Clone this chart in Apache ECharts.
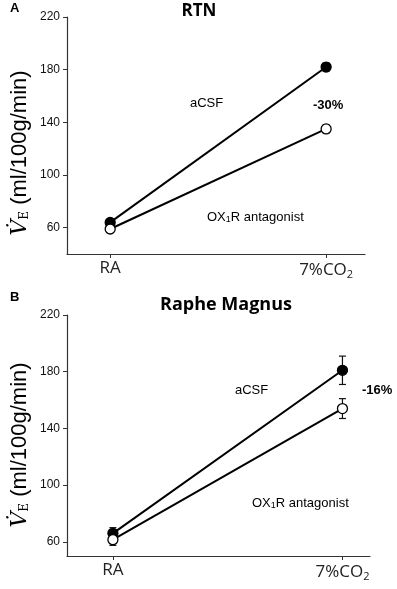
<!DOCTYPE html>
<html>
<head>
<meta charset="utf-8">
<script src="https://cdn.jsdelivr.net/npm/echarts@6/dist/echarts.min.js"></script>
<style>
  html, body { margin: 0; padding: 0; background: #fff; }
  #chart { width: 397px; height: 589px; }
</style>
</head>
<body>
<div id="chart"></div>
<script>
// conditions on the x axis (0 = RA, 1 = 7% CO2)
const conditions = ['RA', '7%CO2']
const xPos = [0, 1]
const yTicks = [60, 100, 140, 180, 220]

// panel A - RTN
const rtnCsf = [64, 182]
const rtnCsfErr = [2, 3]
const rtnOx = [59, 135]
const rtnOxErr = [2, 3]

// panel B - Raphe Magnus
const rmCsf = [66, 181]
const rmCsfErr = [4, 10]
const rmOx = [61.5, 154]
const rmOxErr = [4, 7]

const FONT = 'Liberation Sans, Arial, sans-serif'
const LABEL_FONT = 'Open Sans, sans-serif'

const pts = (vals) => xPos.map((x, i) => [x, vals[i]])
const errPts = (vals, errs) => xPos.map((x, i) => [x, vals[i] - errs[i], vals[i] + errs[i]])

function errorBars(params, api) {
    const x = api.value(0)
    const lo = api.coord([x, api.value(1)])
    const hi = api.coord([x, api.value(2)])
    const w = 3.5
    const style = { stroke: '#111', lineWidth: 1.2 }
    return {
        type: 'group',
        children: [
            { type: 'line', shape: { x1: lo[0], y1: lo[1], x2: hi[0], y2: hi[1] }, style },
            { type: 'line', shape: { x1: hi[0] - w, y1: hi[1], x2: hi[0] + w, y2: hi[1] }, style },
            { type: 'line', shape: { x1: lo[0] - w, y1: lo[1], x2: lo[0] + w, y2: lo[1] }, style },
        ],
    }
}

const xLabelRich = {
    n: { fontFamily: LABEL_FONT, fontSize: 17, color: '#222' },
    s: { fontFamily: LABEL_FONT, fontSize: 11, color: '#222', padding: [9, 0, 0, 0] },
}

function xAxis(idx, max) {
    return {
        type: 'value',
        gridIndex: idx,
        min: -0.2,
        max: max,
        splitLine: { show: false },
        axisLine: { onZero: false, lineStyle: { color: '#333', width: 1.2 } },
        axisTick: { show: true, customValues: xPos, length: 4, lineStyle: { color: '#333' } },
        axisLabel: {
            customValues: xPos,
            margin: 6,
            formatter: (v) => (v === 0 ? '{n|RA}' : '{n|7%CO}{s|2}'),
            rich: xLabelRich,
        },
    }
}

function yAxis(idx, min) {
    return {
        type: 'value',
        gridIndex: idx,
        min: min,
        max: 220,
        splitLine: { show: false },
        axisLine: { show: true, onZero: false, lineStyle: { color: '#333', width: 1.2 } },
        axisTick: { show: true, customValues: yTicks, length: 4, lineStyle: { color: '#333' } },
        axisLabel: { customValues: yTicks, fontFamily: FONT, fontSize: 12, color: '#111', margin: 7 },
    }
}

function lineSeries(idx, data, filled) {
    return {
        type: 'line',
        xAxisIndex: idx,
        yAxisIndex: idx,
        data: pts(data),
        symbol: 'circle',
        symbolSize: 10,
        z: 3,
        lineStyle: { color: '#000', width: 2 },
        itemStyle: { color: filled ? '#000' : '#fff', borderColor: '#000', borderWidth: 1.3 },
        animation: false,
    }
}

function errSeries(idx, vals, errs) {
    return {
        type: 'custom',
        xAxisIndex: idx,
        yAxisIndex: idx,
        data: errPts(vals, errs),
        encode: { x: 0, y: [1, 2] },
        renderItem: errorBars,
        z: 2,
        animation: false,
    }
}

const annRich = {
    s: { fontFamily: FONT, fontSize: 9, padding: [6, 0, 0, 0], fill: '#000' },
}
const nameRich = {
    v: { fontFamily: 'DejaVu Serif, serif', fontSize: 22, fontStyle: 'italic', fill: '#000' },
    e: { fontFamily: 'DejaVu Serif, serif', fontSize: 12, padding: [10, 0, 0, 0], fill: '#000' },
    t: { fontFamily: FONT, fontSize: 22, fill: '#000' },
}

function txt(x, y, text, size, bold, align, rich) {
    return {
        type: 'text',
        x: x,
        y: y,
        style: {
            text: text,
            font: (bold ? 'bold ' : '') + size + 'px ' + FONT,
            fill: '#000',
            align: align || 'left',
            verticalAlign: 'middle',
            rich: rich,
        },
    }
}

function yName(y) {
    return {
        type: 'text',
        x: 20,
        y: y,
        rotation: Math.PI / 2,
        style: {
            text: '{v|V\u0307}{e|E}{t| (ml/100g/min)}',
            align: 'center',
            verticalAlign: 'middle',
            rich: nameRich,
        },
    }
}

const chart = echarts.init(document.getElementById('chart'), null, { renderer: 'canvas' })

chart.setOption({
    backgroundColor: '#fff',
    animation: false,
    grid: [
        { left: 67, top: 17, right: 32, height: 237 },
        { left: 67, top: 315, right: 27, height: 241 },
    ],
    xAxis: [xAxis(0, 1.18), xAxis(1, 1.12)],
    yAxis: [yAxis(0, 40), yAxis(1, 50)],
    series: [
        errSeries(0, rtnCsf, rtnCsfErr),
        errSeries(0, rtnOx, rtnOxErr),
        lineSeries(0, rtnCsf, true),
        lineSeries(0, rtnOx, false),
        errSeries(1, rmCsf, rmCsfErr),
        errSeries(1, rmOx, rmOxErr),
        lineSeries(1, rmCsf, true),
        lineSeries(1, rmOx, false),
    ],
    graphic: [
        txt(10, 8, 'A', 13, true),
        { type: 'text', x: 199, y: 11, style: { text: 'RTN', font: 'bold 17px Open Sans, sans-serif', fill: '#000', align: 'center', verticalAlign: 'middle' } },
        txt(190, 103, 'aCSF', 13, false),
        txt(313, 105, '-30%', 13, true),
        txt(207, 217, 'OX{s|1}R antagonist', 13, false, 'left', annRich),
        yName(153),

        txt(10, 297, 'B', 13, true),
        { type: 'text', x: 226, y: 305, style: { text: 'Raphe Magnus', font: 'bold 18px Open Sans, sans-serif', fill: '#000', align: 'center', verticalAlign: 'middle' } },
        txt(235, 390, 'aCSF', 13, false),
        txt(362, 390, '-16%', 13, true),
        txt(252, 503, 'OX{s|1}R antagonist', 13, false, 'left', annRich),
        yName(445),
    ],
})
</script>
</body>
</html>
